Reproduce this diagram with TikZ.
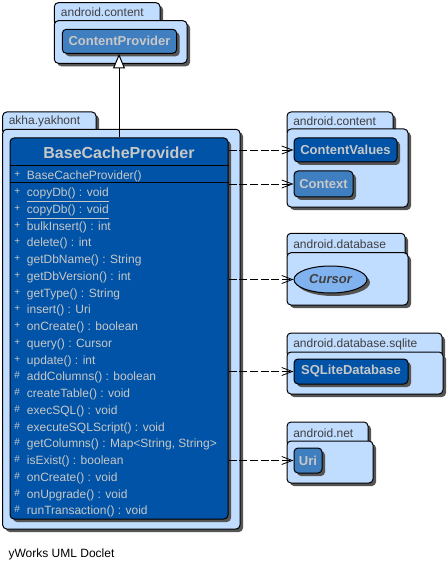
\documentclass[tikz,border=0pt]{standalone}
\usepackage{fontspec}
\setmainfont{Liberation Sans}
\usetikzlibrary{arrows.meta,fit,shadows,shapes.geometric}
\definecolor{pkgfill}{RGB}{192,220,255}
\definecolor{darkcls}{RGB}{0,83,166}
\definecolor{midcls}{RGB}{63,126,191}
\definecolor{curfill}{RGB}{128,178,240}
\definecolor{clstext}{RGB}{200,200,200}
\definecolor{pkgtext}{RGB}{64,64,64}
\definecolor{shadowgray}{RGB}{85,85,85}

\begin{document}
\begin{tikzpicture}[x=0.75pt,y=-0.75pt,
  boxshadow/.style={drop shadow={shadow xshift=2.25pt,shadow yshift=-2.25pt,fill=shadowgray,opacity=1}},
  pkgbox/.style={draw,line width=0.75pt,rounded corners=3pt,fill=pkgfill,inner sep=0pt,boxshadow},
  pkgname/.style={anchor=base west,inner sep=0pt,text=pkgtext,font=\fontsize{9}{11}\selectfont},
  clsbox/.style={draw,line width=0.75pt,rounded corners=3pt,inner sep=0pt,boxshadow,text=clstext,font=\bfseries\fontsize{9.75}{12}\selectfont},
  member/.style={anchor=base west,inner sep=0pt,text=clstext,font=\fontsize{9}{11}\selectfont},
  vissym/.style={anchor=base west,inner sep=0pt,text=clstext,font=\fontsize{7.5}{9}\selectfont},
  dep/.style={draw,line width=0.6pt,dash pattern=on 6pt off 2pt,-{Straight Barb[length=8pt,width=6pt]}},
  inherit/.style={draw,line width=0.75pt,-{Triangle[open,length=11pt,width=9pt,fill=white]}}]
\useasboundingbox (0,0) rectangle (448,570);

% android.content (top)
\node[pkgbox,fit={(54.3,2.7) (160,26)}] (tabcp) {};
\node[pkgbox,fit={(54.3,20.7) (187,63.3)}] (pkgcp) {};
\path (60.7,16.5) node[pkgname] (lblcp) {android.content};
\path (119.5,41.3) node[clsbox,fill=midcls,minimum width=85.8pt,minimum height=18pt] (cp) {ContentProvider};

% akha.yakhont
\node[pkgbox,fit={(2.7,112) (96,135)}] (tabak) {};
\node[pkgbox,fit={(2.7,129.3) (240,529)}] (pkgak) {};
\path (8.5,125) node[pkgname] (lblak) {akha.yakhont};
\node[clsbox,fill=darkcls,fit={(10,138) (228,519)}] (bcp) {};
\path (119,158.3) node[anchor=base,inner sep=0pt,text=clstext,font=\bfseries\fontsize{12}{14}\selectfont] (bcpname) {BaseCacheProvider};
\draw[line width=0.75pt] (bcp.west |- 0,166) -- (bcp.east |- 0,166);
\draw[line width=0.75pt] (bcp.west |- 0,183) -- (bcp.east |- 0,183);
\path (14,178) node[vissym] (ctorvis) {+};
\path (26.7,180) node[member] (ctor) {BaseCacheProvider()};
\foreach \v/\t [count=\k from 0] in {+/{\underline{copyDb() : void}},+/{\underline{copyDb() : void}},
  +/bulkInsert() : int,+/delete() : int,+/getDbName() : String,+/getDbVersion() : int,
  +/getType() : String,+/insert() : Uri,+/onCreate() : boolean,+/query() : Cursor,
  +/update() : int,\#/addColumns() : boolean,\#/createTable() : void,\#/execSQL() : void,
  \#/executeSQLScript() : void,\#/{getColumns() : Map<String, String>},\#/isExist() : boolean,
  \#/onCreate() : void,\#/onUpgrade() : void,\#/runTransaction() : void}
{
  \path (14,194.7+16.75*\k) node[vissym] (vis\k) {\v};
  \path (26.7,196.7+16.75*\k) node[member] (mem\k) {\t};
}

% android.content (right)
\node[pkgbox,fit={(287,112) (393,135)}] (tabac) {};
\node[pkgbox,fit={(287,129) (408,207)}] (pkgac) {};
\path (293,125.5) node[pkgname] (lblac) {android.content};
\path (345.5,150) node[clsbox,fill=darkcls,minimum width=77.25pt,minimum height=18pt] (cv) {ContentValues};
\path (323.5,184) node[clsbox,fill=midcls,minimum width=44.25pt,minimum height=19.5pt] (ctx) {Context};

% android.database
\node[pkgbox,fit={(287,233.3) (405,258)}] (tabdb) {};
\node[pkgbox,fit={(287,252.7) (408,305)}] (pkgdb) {};
\path (293,248) node[pkgname] (lbldb) {android.database};
\path (330.5,279.5) node[ellipse,draw,line width=0.75pt,fill=curfill,inner sep=0pt,boxshadow,
  minimum width=54.75pt,minimum height=20.25pt,text=pkgtext,
  font=\bfseries\itshape\fontsize{9.75}{12}\selectfont] (cur) {Cursor};

% android.database.sqlite
\node[pkgbox,fit={(287,333) (442,357)}] (tabsq) {};
\node[pkgbox,fit={(287,352) (443,394)}] (pkgsq) {};
\path (293,347) node[pkgname] (lblsq) {android.database.sqlite};
\path (351,371.5) node[clsbox,fill=darkcls,minimum width=85.5pt,minimum height=18.75pt] (sql) {SQLiteDatabase};

% android.net
\node[pkgbox,fit={(287,422) (368,446)}] (tabnt) {};
\node[pkgbox,fit={(287,441) (373,483)}] (pkgnt) {};
\path (293,437) node[pkgname] (lblnt) {android.net};
\path (308,460.5) node[clsbox,fill=midcls,minimum width=21pt,minimum height=18.75pt] (uri) {Uri};

% connectors
\draw[inherit] (bcp.north) -- (bcp.north |- cp.south);
\draw[dep] (bcp.east |- cv.west) -- (cv.west);
\draw[dep] (bcp.east |- ctx.west) -- (ctx.west);
\draw[dep] (bcp.east |- cur.west) -- (cur.west);
\draw[dep] (bcp.east |- sql.west) -- (sql.west);
\draw[dep] (bcp.east |- uri.west) -- (uri.west);

\path (8.3,557) node[anchor=base west,inner sep=0pt,font=\fontsize{9}{11}\selectfont] (doclet) {yWorks UML Doclet};
\end{tikzpicture}
\end{document}
